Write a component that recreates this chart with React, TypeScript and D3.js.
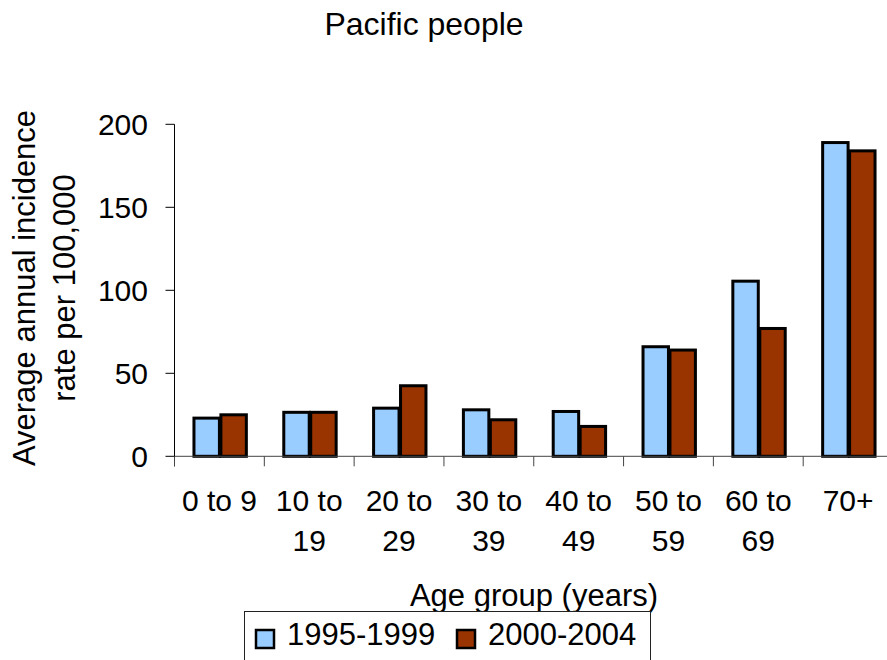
import React from "react";
import * as d3 from "d3";

const categories = ["0 to 9", "10 to 19", "20 to 29", "30 to 39", "40 to 49", "50 to 59", "60 to 69", "70+"];
const tickLines = [["0 to 9"], ["10 to", "19"], ["20 to", "29"], ["30 to", "39"], ["40 to", "49"], ["50 to", "59"], ["60 to", "69"], ["70+"]];
const seriesNames = ["1995-1999", "2000-2004"];
const series1995 = [23, 26.5, 29, 28, 27, 66, 105.5, 189];
const series2000 = [25, 26.5, 42.5, 22, 18, 64, 77, 184];
const yTicks = [0, 50, 100, 150, 200];
const colors = ["#99CCFF", "#993300"];

const W = 887;
const H = 660;
const FONT = "'Liberation Sans', Arial, sans-serif";

export default function App() {
  const x0 = d3.scaleBand<string>().domain(categories).range([174.5, 893]).paddingInner(0.4).paddingOuter(0.2);
  const x1 = d3.scaleBand<string>().domain(seriesNames).range([0, x0.bandwidth()]);
  const y = d3.scaleLinear().domain([0, 200]).range([456.3, 124.3]);
  const step = x0.step();
  const left = 174.5;
  const boundaries = d3.range(categories.length + 1).map((i) => left + i * step);
  const data = [series1995, series2000];

  return (
    <svg width={W} height={H} style={{ position: "absolute", left: 0, top: 0, background: "#fff" }} fontFamily={FONT}>
      <rect x={0} y={0} width={W} height={H} fill="#fff" />
      <text x={424} y={35} fontSize={32} textAnchor="middle" fill="#000">Pacific people</text>

      {/* y axis title */}
      <g transform="translate(35,288) rotate(-90)">
        <text x={0} y={0} fontSize={31} textAnchor="middle" fill="#000">Average annual incidence</text>
        <text x={0} y={40} fontSize={31} textAnchor="middle" fill="#000">rate per 100,000</text>
      </g>

      {/* bars */}
      {categories.map((c, i) => (
        <g key={c} transform={`translate(${x0(c)},0)`}>
          {seriesNames.map((s, j) => (
            <rect
              key={s}
              x={(x1(s) as number) + 1.5}
              y={y(data[j][i])}
              width={x1.bandwidth() - 1.5}
              height={y(0) - y(data[j][i])}
              fill={colors[j]}
              stroke="#000"
              strokeWidth={3}
            />
          ))}
        </g>
      ))}

      {/* axes */}
      <line x1={left} x2={W} y1={y(0)} y2={y(0)} stroke="#444" strokeWidth={1} />
      <line x1={left} x2={left} y1={y(200)} y2={y(0) + 10} stroke="#000" strokeWidth={1} />
      {yTicks.map((t) => (
        <g key={t}>
          <line x1={left - 9} x2={left} y1={y(t)} y2={y(t)} stroke="#000" strokeWidth={1} />
          <text x={148} y={y(t) + 11} fontSize={30} textAnchor="end" fill="#000">{t}</text>
        </g>
      ))}
      {boundaries.map((b, i) => (
        <line key={i} x1={b} x2={b} y1={y(0)} y2={y(0) + 10} stroke="#444" strokeWidth={1} />
      ))}
      {categories.map((c, i) => (
        <text key={c} x={(x0(c) as number) + x0.bandwidth() / 2} y={511} fontSize={30} textAnchor="middle" fill="#000">
          {tickLines[i].map((line, k) => (
            <tspan key={k} x={(x0(c) as number) + x0.bandwidth() / 2} dy={k === 0 ? 0 : 40}>{line}</tspan>
          ))}
        </text>
      ))}

      <text x={534} y={606} fontSize={31} textAnchor="middle" fill="#000">Age group (years)</text>

      {/* legend */}
      <rect x={244.5} y={611.5} width={406} height={60} fill="#fff" stroke="#222" strokeWidth={1} />
      {seriesNames.map((s, j) => {
        const lx = j === 0 ? 256 : 457;
        return (
          <g key={s}>
            <rect x={lx} y={630} width={18} height={18} fill={colors[j]} stroke="#000" strokeWidth={2.5} />
            <text x={lx + 31} y={645} fontSize={31} fill="#000">{s}</text>
          </g>
        );
      })}
    </svg>
  );
}
